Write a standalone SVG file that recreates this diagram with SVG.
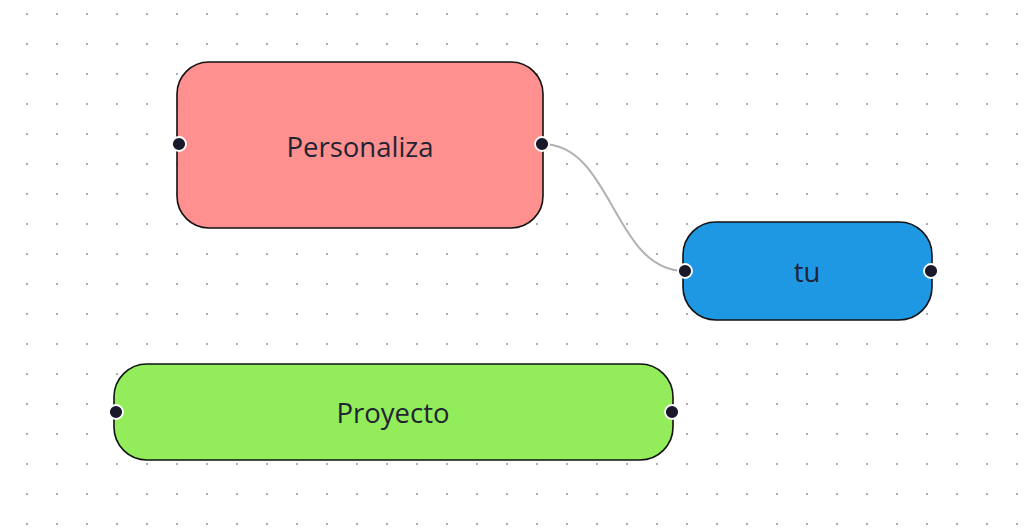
<svg xmlns="http://www.w3.org/2000/svg" width="1030" height="530" viewBox="0 0 1030 530">
  <defs>
    <pattern id="dots" x="0" y="0" width="30" height="30" patternUnits="userSpaceOnUse">
      <circle cx="27" cy="14" r="1.1" fill="#9a9aa2"/>
    </pattern>
    <style>
      .node { stroke: #111111; stroke-width: 1.6; }
      .label { font-family: "Open Sans", "Noto Sans", "Liberation Sans", sans-serif; font-size: 27.5px; fill: #1f2433; text-anchor: middle; dominant-baseline: central; }
      .handle { fill: #1a192b; stroke: #ffffff; stroke-width: 1.8; }
      .edge { fill: none; stroke: #b1b1b7; stroke-width: 2; }
    </style>
  </defs>
  <rect width="1030" height="530" fill="#ffffff"/>
  <rect width="1030" height="530" fill="url(#dots)"/>

  <g id="connectors">
    <path class="edge" d="M542,144 C613,144 613,271 685,271"/>
  </g>

  <g id="node-personaliza">
    <rect class="node" x="177" y="62" width="366" height="166" rx="32" fill="#ff9090"/>
    <text class="label" x="360" y="146">Personaliza</text>
    <circle class="handle" cx="179" cy="144" r="7"/>
    <circle class="handle" cx="542" cy="144" r="7"/>
  </g>

  <g id="node-tu">
    <rect class="node" x="683" y="222" width="249" height="98" rx="33" fill="#1f98e4"/>
    <text class="label" x="807" y="271">tu</text>
    <circle class="handle" cx="685" cy="271" r="7"/>
    <circle class="handle" cx="931" cy="271" r="7"/>
  </g>

  <g id="node-proyecto">
    <rect class="node" x="114" y="364" width="559" height="96" rx="33" fill="#93ec5a"/>
    <text class="label" x="393" y="412">Proyecto</text>
    <circle class="handle" cx="116" cy="412" r="7"/>
    <circle class="handle" cx="672" cy="412" r="7"/>
  </g>
</svg>
